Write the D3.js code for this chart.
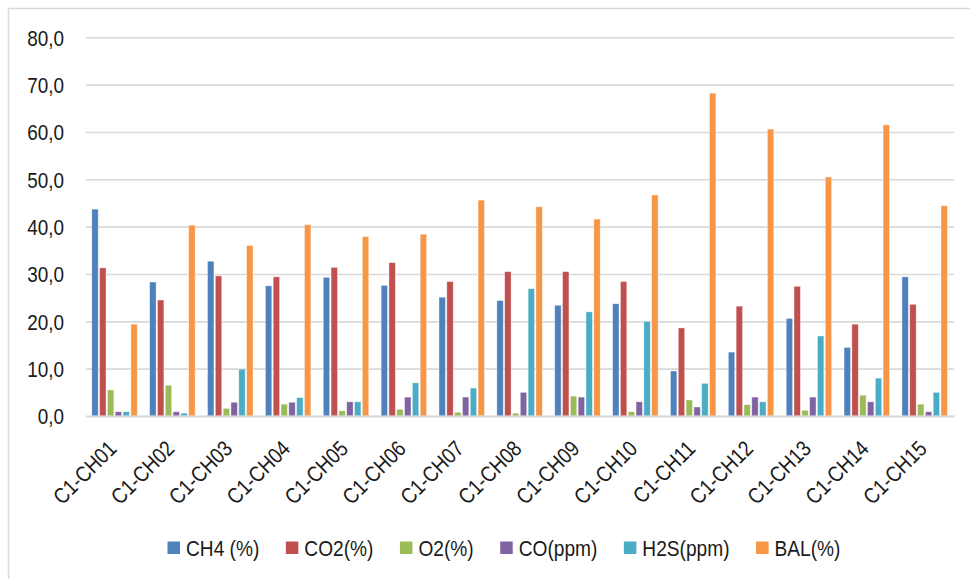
<!DOCTYPE html>
<html>
<head>
<meta charset="utf-8">
<script src="https://cdn.jsdelivr.net/npm/d3@7"></script>
<style>
  html, body { margin: 0; padding: 0; background: #fff; }
  svg { display: block; }
  text { font-family: "Liberation Sans", Arial, sans-serif; fill: #1a1a1a; }
</style>
</head>
<body>
<svg id="chart" width="970" height="579"></svg>
<script>
const categories = ["C1-CH01","C1-CH02","C1-CH03","C1-CH04","C1-CH05","C1-CH06","C1-CH07","C1-CH08","C1-CH09","C1-CH10","C1-CH11","C1-CH12","C1-CH13","C1-CH14","C1-CH15"];
const seriesNames = ["CH4 (%)","CO2(%)","O2(%)","CO(ppm)","H2S(ppm)","BAL(%)"];
const seriesColors = ["#4F81BD","#C0504D","#9BBB59","#8064A2","#4BACC6","#F79646"];
const ch4 = [43.7,28.3,32.7,27.5,29.3,27.6,25.1,24.4,23.4,23.7,9.5,13.5,20.6,14.5,29.4];
const co2 = [31.3,24.5,29.6,29.4,31.4,32.4,28.4,30.5,30.5,28.4,18.6,23.2,27.4,19.4,23.6];
const o2  = [5.5,6.5,1.6,2.5,1.1,1.4,0.8,0.6,4.2,0.9,3.4,2.4,1.2,4.4,2.5];
const co  = [0.9,0.9,2.9,2.9,3.0,4.0,4.0,5.0,4.0,3.0,1.9,4.0,4.0,3.0,0.9];
const h2s = [0.9,0.6,9.9,3.9,3.0,7.0,5.9,26.9,22.0,20.0,6.9,3.0,16.9,8.0,5.0];
const bal = [19.4,40.3,36.0,40.4,37.9,38.4,45.6,44.2,41.6,46.7,68.2,60.6,50.5,61.5,44.4];
const yTicks = [0,10,20,30,40,50,60,70,80];

const seriesValues = [ch4, co2, o2, co, h2s, bal];
const fmt = v => v.toFixed(1).replace(".", ",");

const svg = d3.select("#chart");
const plotLeft = 86, plotRight = 954, plotTop = 37.3, plotBottom = 416;
const squeeze = 0.86;

// chart border
svg.append("rect").attr("x", 8.5).attr("y", 8.5).attr("width", 980).attr("height", 600)
  .attr("fill", "none").attr("stroke", "#d9d9d9").attr("stroke-width", 1.5);

const y = d3.scaleLinear().domain([0, 80]).range([plotBottom, plotTop]);
const x0 = d3.scaleBand().domain(categories).range([plotLeft, plotRight]).paddingInner(0.19).paddingOuter(0.095);
const x1 = d3.scaleBand().domain(seriesNames).range([0, x0.bandwidth()]);

// gridlines
const gy = d3.axisLeft(y).tickValues(yTicks).tickSize(-(plotRight - plotLeft)).tickFormat("");
const gridG = svg.append("g").attr("transform", `translate(${plotLeft},0)`).call(gy);
gridG.select(".domain").remove();
gridG.selectAll(".tick line").attr("stroke", "#d9d9d9").attr("stroke-width", 1.6);

// y labels
const ya = d3.axisLeft(y).tickValues(yTicks).tickSize(0).tickPadding(0).tickFormat(fmt);
const yG = svg.append("g").attr("transform", `translate(64,0)`).call(ya);
yG.select(".domain").remove();
yG.selectAll(".tick text")
  .attr("font-size", 22).attr("fill", "#1a1a1a")
  .attr("font-family", '"Liberation Sans", Arial, sans-serif')
  .attr("x", 0).attr("dy", "0.36em")
  .attr("transform", `scale(${squeeze},1)`);

// bars
const groups = svg.append("g").selectAll("g").data(categories).join("g")
  .attr("transform", d => `translate(${x0(d)},0)`);
groups.selectAll("rect")
  .data((c, i) => seriesNames.map((s, j) => ({ s, j, v: seriesValues[j][i] })))
  .join("rect")
  .attr("x", d => x1(d.s) + 0.3)
  .attr("width", x1.bandwidth() - 1.4)
  .attr("y", d => y(d.v))
  .attr("height", d => y(0) - y(d.v))
  .attr("fill", d => seriesColors[d.j])
  .attr("stroke", "rgba(255,255,255,0.55)")
  .attr("stroke-width", 0.7);

// baseline axis
const xa = d3.axisBottom(x0).tickSize(0).tickPadding(0);
const xG = svg.append("g").attr("transform", `translate(0,${plotBottom})`).call(xa);
xG.select(".domain").attr("stroke", "#d9d9d9").attr("stroke-width", 1.8);
xG.selectAll(".tick text")
  .attr("font-size", 22)
  .attr("fill", "#1a1a1a")
  .attr("font-family", '"Liberation Sans", Arial, sans-serif')
  .attr("text-anchor", "end")
  .attr("y", 0).attr("dy", 0)
  .attr("transform", `translate(3,34) rotate(-45) scale(${squeeze},1)`);

// legend
const legend = svg.append("g").attr("transform", "translate(167.5,541.5)");
let lx = 0;
seriesNames.forEach((s, j) => {
  const g = legend.append("g").attr("transform", `translate(${lx},0)`);
  g.append("rect").attr("width", 12.5).attr("height", 12.5).attr("fill", seriesColors[j]);
  const t = g.append("text").attr("transform", `translate(18.5,14.5) scale(0.87,1)`)
    .attr("font-size", 22).text(s);
  const w = t.node().getComputedTextLength() * 0.87;
  lx += 18.5 + w + 26.5;
});
</script>
</body>
</html>
